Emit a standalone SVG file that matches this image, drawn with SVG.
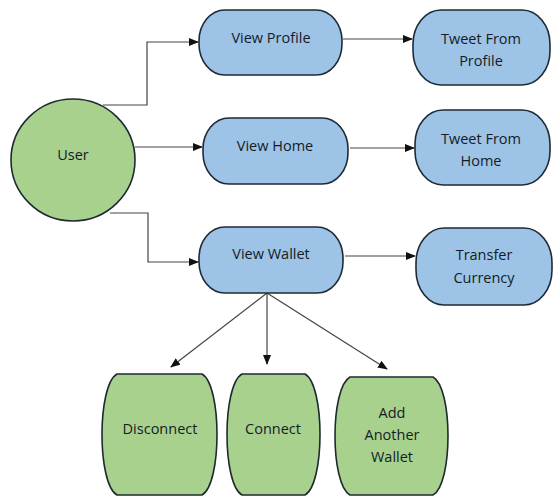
<svg xmlns="http://www.w3.org/2000/svg" width="557" height="496" viewBox="0 0 557 496">
<defs>
<marker id="arr" markerWidth="10" markerHeight="8" refX="9" refY="4" orient="auto" markerUnits="userSpaceOnUse">
<path d="M0,0 L10,4 L0,8 Z" fill="#111"/>
</marker>
<style>
.blue{fill:#9dc3e6;stroke:#1e2a36;stroke-width:1.6}
.green{fill:#a9d18e;stroke:#1e2a30;stroke-width:1.6}
.t{font-family:"Open Sans","Liberation Sans",sans-serif;font-size:14.5px;fill:#141c26;text-anchor:middle}
.c{fill:none;stroke:#444;stroke-width:1.2;marker-end:url(#arr)}
</style>
</defs>
<rect width="557" height="496" fill="#fff"/>
<g id="connectors">
<path class="c" d="M103,105 H147 V42 H198"/>
<path class="c" d="M135,147 H202"/>
<path class="c" d="M110,213 H148 V262 H198"/>
<path class="c" d="M343,39 H412"/>
<path class="c" d="M350,148 H414"/>
<path class="c" d="M345,256 H415"/>
<path class="c" d="M267,293 L171,367"/>
<path class="c" d="M267,293 V364"/>
<path class="c" d="M267,293 L387,369"/>
</g>
<g id="user"><ellipse class="green" cx="73" cy="160" rx="62" ry="61"/><text class="t" x="73" y="160">User</text></g>
<g id="view-profile"><rect class="blue" x="199" y="10" width="143" height="65" rx="26" ry="31"/><text class="t" x="271" y="43">View Profile</text></g>
<g id="view-home"><rect class="blue" x="203" y="118" width="145" height="66" rx="26" ry="31"/><text class="t" x="275" y="151">View Home</text></g>
<g id="view-wallet"><rect class="blue" x="199" y="227" width="144" height="66" rx="26" ry="31"/><text class="t" x="271" y="259">View Wallet</text></g>
<g id="tweet-profile"><rect class="blue" x="413" y="10" width="137" height="75" rx="28" ry="34"/><text class="t" x="481" y="44">Tweet From</text><text class="t" x="481" y="66">Profile</text></g>
<g id="tweet-home"><rect class="blue" x="415" y="110" width="135" height="75" rx="28" ry="34"/><text class="t" x="481" y="144">Tweet From</text><text class="t" x="481" y="166">Home</text></g>
<g id="transfer"><rect class="blue" x="416" y="228" width="136" height="77" rx="28" ry="35"/><text class="t" x="484" y="260">Transfer</text><text class="t" x="484" y="283">Currency</text></g>
<g id="disconnect"><path class="green" d="M117,374 H202 C222,385 222,484 202,495 H117 C97,484 97,385 117,374 Z"/><text class="t" x="160" y="434">Disconnect</text></g>
<g id="connect"><path class="green" d="M242,374 H305 C325,385 325,484 305,495 H242 C222,484 222,385 242,374 Z"/><text class="t" x="273" y="434">Connect</text></g>
<g id="add-wallet"><path class="green" d="M350,377 H433 C453,388 453,484 433,495 H350 C330,484 330,388 350,377 Z"/><text class="t" x="392" y="418">Add</text><text class="t" x="392" y="440">Another</text><text class="t" x="392" y="462">Wallet</text></g>
</svg>
